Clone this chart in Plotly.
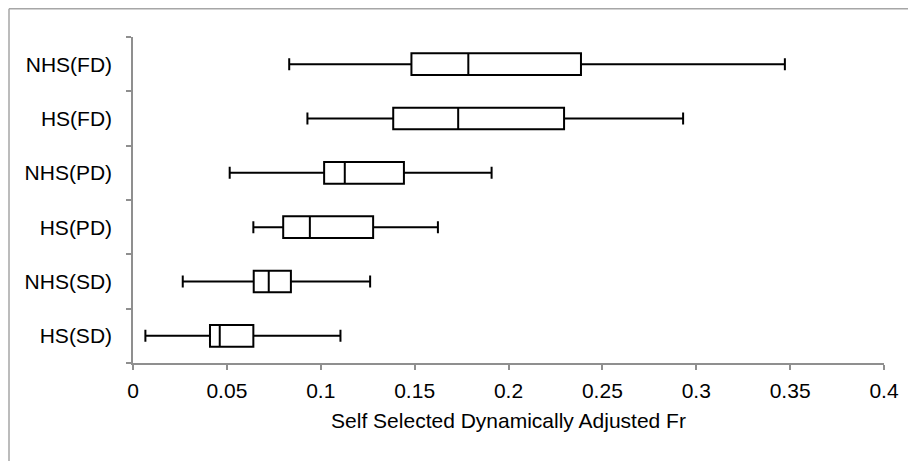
import plotly.graph_objects as go

categories = ["HS(SD)", "NHS(SD)", "HS(PD)", "NHS(PD)", "HS(FD)", "NHS(FD)"]
lower = [0.0066, 0.0265, 0.0641, 0.0515, 0.0929, 0.0832]
q1 = [0.0410, 0.0643, 0.0800, 0.1018, 0.1386, 0.1483]
median = [0.0462, 0.0723, 0.0942, 0.1128, 0.1732, 0.1786]
q3 = [0.0641, 0.0841, 0.1279, 0.1443, 0.2296, 0.2386]
upper = [0.1105, 0.1263, 0.1624, 0.1910, 0.2930, 0.3472]
x_ticks = [0, 0.05, 0.1, 0.15, 0.2, 0.25, 0.3, 0.35, 0.4]
x_title = "Self Selected Dynamically Adjusted Fr"

# the page has an 8px body margin; figure is sized/positioned to compensate
OFF = 8
W, H = 916 - OFF, 461 - OFF
PL, PR, PT, PB = 133 - OFF, 884 - OFF, 37 - OFF, 363 - OFF  # plot area in figure px
pw, ph = PR - PL, PB - PT

def px_x(x):
    return (x - OFF - PL) / pw

def px_y(y):
    return (PB - (y - OFF)) / ph

fig = go.Figure()
fig.add_trace(go.Box(
    y=categories, q1=q1, median=median, q3=q3,
    lowerfence=lower, upperfence=upper,
    orientation="h", fillcolor="white",
    line=dict(color="black", width=2),
    whiskerwidth=0.55, width=0.4, boxpoints=False,
    showlegend=False, hoverinfo="skip",
))

axis_col = "#8f8f8f"
fig.update_layout(
    width=W, height=H,
    margin=dict(l=PL, r=W - PR, t=PT, b=H - PB),
    paper_bgcolor="white", plot_bgcolor="white",
    font=dict(family="Liberation Sans, Arial, sans-serif", size=21, color="black"),
    xaxis=dict(
        range=[0, 0.4], tickvals=x_ticks, ticktext=[f"{v:g}" for v in x_ticks],
        showgrid=False, zeroline=False, showline=True, linecolor=axis_col, linewidth=1.5,
        ticks="outside", ticklen=5, tickcolor=axis_col, tickwidth=1.5,
        ticklabelstandoff=3,
        title=dict(text=x_title, standoff=12, font=dict(size=21)),
        automargin=False, fixedrange=True,
    ),
    yaxis=dict(
        type="category", categoryorder="array", categoryarray=categories,
        range=[-0.5, 5.5], tickson="boundaries",
        showgrid=False, zeroline=False, showline=True, linecolor=axis_col, linewidth=1.5,
        ticks="outside", ticklen=5, tickcolor=axis_col, tickwidth=1.5,
        ticklabelstandoff=15, automargin=False, fixedrange=True,
    ),
    shapes=[
        dict(type="line", xref="paper", yref="paper",
             x0=px_x(9), x1=px_x(930), y0=px_y(8.8), y1=px_y(8.8),
             line=dict(color="#a6a6a6", width=1.5)),
        dict(type="line", xref="paper", yref="paper",
             x0=px_x(9), x1=px_x(9), y0=px_y(8.8), y1=px_y(480),
             line=dict(color="#a6a6a6", width=1.5)),
    ],
)

fig.write_html("out.html", config={"displayModeBar": False})
